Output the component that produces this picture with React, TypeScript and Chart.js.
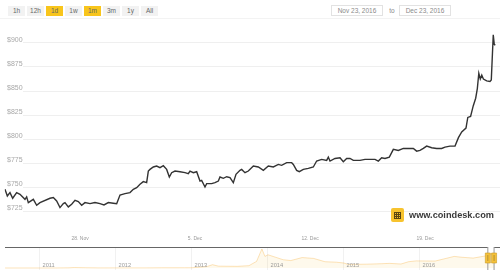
import React, { useEffect, useRef } from 'react';
import { Chart, registerables } from 'chart.js';

Chart.register(...registerables);

// ---- Main series: days since Nov 23, 2016 00:00 and USD price ----
const priceDays = [
  0.432, 0.574, 0.736, 0.899, 1.142, 1.345, 1.649, 1.751, 1.852, 2.157, 2.36, 2.562,
  3.171, 3.374, 3.577, 3.78, 3.983, 4.084, 4.287, 4.49, 4.693, 4.895, 5.098, 5.301,
  5.606, 5.91, 6.214, 6.458, 6.721, 7.026, 7.229, 7.432, 7.736, 8.04, 8.243, 8.446,
  8.649, 8.851, 9.054, 9.156, 9.257, 9.46, 9.663, 9.866, 10.069, 10.272, 10.434, 10.576,
  10.779, 11.083, 11.388, 11.59, 11.692, 11.895, 12.098, 12.301, 12.402, 12.605, 12.707, 13.011,
  13.214, 13.417, 13.518, 13.721, 13.924, 14.127, 14.329, 14.492, 14.735, 14.837, 15.039, 15.242,
  15.547, 15.851, 16.156, 16.46, 16.764, 17.068, 17.271, 17.576, 17.88, 17.981, 18.184, 18.346,
  18.59, 18.894, 19.198, 19.401, 19.706, 20.01, 20.111, 20.213, 20.517, 20.822, 21.024, 21.227,
  21.43, 21.633, 22.039, 22.343, 22.648, 22.952, 23.155, 23.358, 23.561, 23.824, 24.068, 24.372,
  24.677, 24.981, 25.285, 25.488, 25.691, 25.894, 26.097, 26.401, 26.706, 27.01, 27.213, 27.517,
  27.822, 28.03, 28.23, 28.49, 28.6, 28.77, 28.93, 29.08, 29.18, 29.27, 29.36, 29.45,
  29.55, 29.75, 29.95, 30.03, 30.15, 30.21, 30.27,
];
const priceValues = [
  747.3, 740.4, 743.9, 738.0, 743.9, 742.1, 736.9, 739.4, 733.5, 736.9, 730.7, 733.5,
  738.0, 738.7, 735.2, 728.3, 732.4, 733.5, 729.0, 731.8, 735.9, 734.5, 730.7, 733.5,
  732.4, 733.5, 732.4, 731.1, 733.5, 732.8, 732.4, 741.4, 742.8, 743.9, 747.3, 749.0,
  752.5, 755.3, 754.2, 766.3, 768.0, 770.5, 771.5, 769.8, 771.8, 768.0, 760.1, 764.6,
  766.3, 765.6, 764.6, 763.6, 766.3, 764.6, 765.6, 755.9, 756.6, 749.7, 753.2, 753.2,
  754.2, 755.9, 760.1, 758.7, 760.4, 759.4, 754.2, 762.9, 767.0, 768.0, 764.6, 766.3,
  771.5, 770.5, 767.0, 771.5, 770.5, 773.2, 772.2, 775.0, 775.0, 773.2, 767.0, 765.6,
  768.0, 769.1, 770.5, 776.7, 778.4, 777.4, 780.8, 776.7, 779.4, 780.1, 776.0, 779.4,
  779.4, 777.4, 777.4, 778.4, 778.4, 778.4, 776.7, 780.1, 779.4, 780.8, 788.8, 787.7,
  789.8, 789.8, 789.8, 787.0, 787.7, 789.8, 792.2, 790.5, 789.8, 789.8, 791.2, 792.2,
  792.2, 801, 807, 811, 822, 823, 834, 842, 852, 868, 862, 866,
  862, 860, 859.5, 861, 908, 898, 897,
];

const yTickValues = [725, 750, 775, 800, 825, 850, 875, 900];
const xTickDays = [5, 12, 19, 26];
const xTickLabels = ['28. Nov', '5. Dec', '12. Dec', '19. Dec'];

// ---- Navigator series: decimal year and USD price ----
const navYears = [
  2010.54, 2011.0, 2011.2, 2011.38, 2011.45, 2011.6, 2011.8, 2012.0, 2012.4, 2012.6, 2012.9,
  2013.0, 2013.2, 2013.27, 2013.35, 2013.6, 2013.75, 2013.85, 2013.92, 2013.96, 2014.0,
  2014.1, 2014.2, 2014.3, 2014.45, 2014.6, 2014.75, 2014.9, 2015.0, 2015.05, 2015.3,
  2015.5, 2015.6, 2015.75, 2015.85, 2015.95, 2016.2, 2016.45, 2016.55, 2016.7, 2016.85, 2016.975,
];
const navValues = [
  0.1, 0.3, 0.9, 8, 25, 13, 3, 5, 5, 11, 12,
  13, 90, 200, 110, 100, 140, 400, 1150, 700, 800,
  650, 500, 450, 630, 580, 380, 350, 300, 220, 230,
  260, 280, 240, 380, 430, 420, 700, 650, 600, 720, 900,
];
const navYearTicks = [2011, 2012, 2013, 2014, 2015, 2016];
const navSelection = [2016.893, 2016.975];

const rangeButtons = ['1h', '12h', '1d', '1w', '1m', '3m', '1y', 'All'];
const activeButtons = ['1d', '1m'];
const dateFrom = 'Nov 23, 2016';
const dateTo = 'Dec 23, 2016';

const FONT = "'Liberation Sans', Arial, Helvetica, sans-serif";

const gridPlugin = {
  id: 'leftGrid',
  beforeDatasetsDraw(chart: any) {
    const y = chart.scales.y;
    const ctx = chart.ctx;
    ctx.save();
    ctx.strokeStyle = '#efefef';
    ctx.lineWidth = 1;
    y.ticks.forEach((t: any) => {
      const py = Math.round(y.getPixelForValue(t.value)) + 0.5;
      ctx.beginPath();
      ctx.moveTo(23, py);
      ctx.lineTo(chart.chartArea.right, py);
      ctx.stroke();
    });
    ctx.restore();
  },
};

const navPlugin = {
  id: 'navDecor',
  afterDraw(chart: any) {
    const x = chart.scales.x;
    const ctx = chart.ctx;
    ctx.save();
    ctx.font = `5.7px ${FONT}`;
    ctx.fillStyle = '#9a9a9a';
    ctx.textAlign = 'left';
    ctx.textBaseline = 'middle';
    navYearTicks.forEach((yr) => {
      ctx.fillText(String(yr), x.getPixelForValue(yr) + 2.5, 21);
    });
    const s = x.getPixelForValue(navSelection[0]);
    const e = x.getPixelForValue(navSelection[1]);
    ctx.strokeStyle = '#666';
    ctx.lineWidth = 1;
    ctx.beginPath();
    ctx.moveTo(5, 3.5);
    ctx.lineTo(s, 3.5);
    ctx.moveTo(e, 3.5);
    ctx.lineTo(500, 3.5);
    ctx.stroke();
    [s, e].forEach((px) => {
      ctx.strokeStyle = '#999';
      ctx.beginPath();
      ctx.moveTo(px, 3);
      ctx.lineTo(px, 26);
      ctx.stroke();
      ctx.fillStyle = '#f5c13a';
      ctx.strokeStyle = '#c99a25';
      ctx.lineWidth = 0.6;
      ctx.beginPath();
      ctx.rect(px - 2.5, 9, 5, 10);
      ctx.fill();
      ctx.stroke();
      ctx.strokeStyle = '#8a7030';
      ctx.beginPath();
      ctx.moveTo(px, 11);
      ctx.lineTo(px, 17);
      ctx.stroke();
      ctx.lineWidth = 1;
    });
    ctx.restore();
  },
};

export default function App() {
  const mainRef = useRef<HTMLCanvasElement>(null);
  const navRef = useRef<HTMLCanvasElement>(null);

  useEffect(() => {
    Chart.defaults.font.family = FONT;
    const main = new Chart(mainRef.current as HTMLCanvasElement, {
      type: 'line',
      data: {
        datasets: [
          {
            data: priceDays.map((d, i) => ({ x: d, y: priceValues[i] })),
            borderColor: '#333333',
            borderWidth: 1.4,
            pointRadius: 0,
            tension: 0,
            fill: false,
          },
        ],
      },
      options: {
        animation: false,
        responsive: false,
        maintainAspectRatio: false,
        layout: { padding: { top: 28, left: 0, right: 0, bottom: 0 } },
        plugins: { legend: { display: false }, tooltip: { enabled: false } },
        scales: {
          x: {
            type: 'linear',
            min: 0.412,
            max: 30.56,
            grid: { display: false, drawTicks: false },
            border: { display: false },
            afterBuildTicks: (s: any) => {
              s.ticks = xTickDays.map((v) => ({ value: v }));
            },
            ticks: {
              autoSkip: false,
              maxRotation: 0,
              padding: 6,
              color: '#9a9a9a',
              font: { size: 5, family: FONT },
              callback: (_v: any, i: number) => xTickLabels[i],
            },
          },
          y: {
            min: 705,
            max: 915,
            position: 'left',
            grid: { display: false, drawTicks: false },
            border: { display: false },
            afterBuildTicks: (s: any) => {
              s.ticks = yTickValues.map((v) => ({ value: v }));
            },
            ticks: {
              mirror: true,
              padding: 2.33,
              labelOffset: -2.7,
              color: '#a8a8a8',
              font: { size: 7, family: FONT },
              callback: (v: any) => '$' + v,
            },
          },
        },
      },
      plugins: [gridPlugin],
    } as any);

    const nav = new Chart(navRef.current as HTMLCanvasElement, {
      type: 'line',
      data: {
        datasets: [
          {
            data: navYears.map((d, i) => ({ x: d, y: navValues[i] })),
            borderColor: 'rgba(245,175,60,0.35)',
            borderWidth: 1,
            backgroundColor: 'rgba(250,205,110,0.13)',
            fill: 'origin',
            pointRadius: 0,
            tension: 0,
          },
        ],
      },
      options: {
        animation: false,
        responsive: false,
        maintainAspectRatio: false,
        layout: { padding: { top: 4, bottom: 4, left: 0, right: 0 } },
        plugins: { legend: { display: false }, tooltip: { enabled: false } },
        scales: {
          x: {
            type: 'linear',
            min: 2010.474,
            max: 2017.053,
            afterBuildTicks: (s: any) => {
              s.ticks = navYearTicks.map((v) => ({ value: v }));
            },
            grid: { color: '#f1f1f1', drawTicks: false },
            border: { display: false },
            ticks: { display: false },
          },
          y: { display: false, min: -121, max: 1210 },
        },
      },
      plugins: [navPlugin],
    } as any);

    return () => {
      main.destroy();
      nav.destroy();
    };
  }, []);

  return (
    <div
      style={{
        position: 'absolute',
        left: 0,
        top: 0,
        width: 500,
        height: 278,
        background: '#fff',
        overflow: 'hidden',
        fontFamily: FONT,
      }}
    >
      {rangeButtons.map((b, i) => (
        <div
          key={b}
          style={{
            position: 'absolute',
            left: 8 + i * 19,
            top: 6,
            width: 17,
            height: 10,
            lineHeight: '10px',
            textAlign: 'center',
            fontSize: 6.5,
            color: '#666',
            background: activeButtons.includes(b) ? '#f8c51c' : '#f2f2f2',
          }}
        >
          {b}
        </div>
      ))}
      <div
        style={{
          position: 'absolute',
          left: 331,
          top: 5,
          width: 50,
          height: 9,
          border: '1px solid #e2e2e2',
          fontSize: 6.5,
          lineHeight: '9px',
          textAlign: 'center',
          color: '#8a8a8a',
        }}
      >
        {dateFrom}
      </div>
      <div
        style={{
          position: 'absolute',
          left: 387,
          top: 5,
          width: 10,
          height: 11,
          fontSize: 6.5,
          lineHeight: '11px',
          textAlign: 'center',
          color: '#8a8a8a',
        }}
      >
        to
      </div>
      <div
        style={{
          position: 'absolute',
          left: 399,
          top: 5,
          width: 50,
          height: 9,
          border: '1px solid #e2e2e2',
          fontSize: 6.5,
          lineHeight: '9px',
          textAlign: 'center',
          color: '#8a8a8a',
        }}
      >
        {dateTo}
      </div>
      <div
        style={{ position: 'absolute', left: 0, top: 18, width: 500, height: 1, background: '#f3f3f3' }}
      />
      <canvas
        ref={mainRef}
        width={500}
        height={248}
        style={{ position: 'absolute', left: 0, top: 0, width: 500, height: 248 }}
      />
      <canvas
        ref={navRef}
        width={500}
        height={30}
        style={{ position: 'absolute', left: 0, top: 244, width: 500, height: 30 }}
      />
      <div
        style={{
          position: 'absolute',
          left: 391,
          top: 208,
          width: 13,
          height: 14,
          borderRadius: 2,
          background: '#f7c32e',
        }}
      >
        <div
          style={{
            position: 'absolute',
            left: 3,
            top: 3.5,
            width: 7,
            height: 7,
            background:
              'repeating-linear-gradient(90deg, #5b4612 0 1px, transparent 1px 2px), repeating-linear-gradient(0deg, #5b4612 0 1px, transparent 1px 2px)',
          }}
        />
      </div>
      <div
        style={{
          position: 'absolute',
          left: 409,
          top: 209,
          height: 12,
          lineHeight: '12px',
          fontSize: 9.2,
          fontWeight: 'bold',
          color: '#3a3a3a',
          whiteSpace: 'nowrap',
        }}
      >
        www.coindesk.com
      </div>
    </div>
  );
}
